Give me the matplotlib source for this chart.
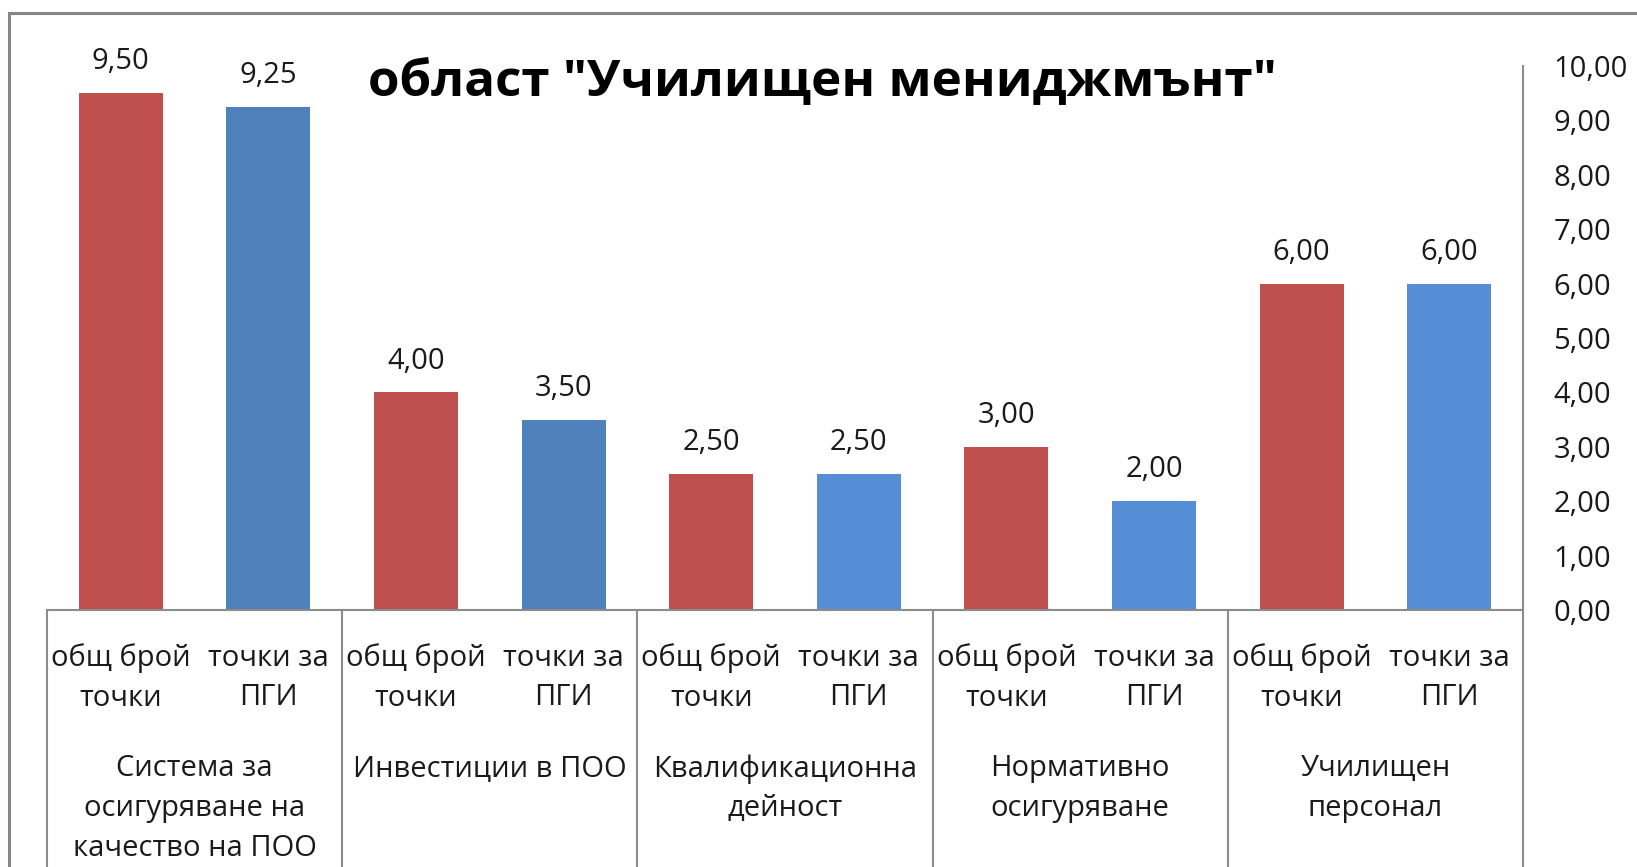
import numpy as np
import matplotlib

matplotlib.use("Agg")
import matplotlib.pyplot as plt
from matplotlib.patches import Rectangle
from matplotlib.ticker import FuncFormatter


GROUPS = [
    "Система за\nосигуряване на\nкачество на ПОО",
    "Инвестиции в ПОО",
    "Квалификационна\nдейност",
    "Нормативно\nосигуряване",
    "Училищен\nперсонал",
]
SUB_LABELS = ["общ брой\nточки", "точки за\nПГИ"]
TOTAL_POINTS = [9.50, 4.00, 2.50, 3.00, 6.00]
PGI_POINTS = [9.25, 3.50, 2.50, 2.00, 6.00]
TITLE = 'област "Училищен мениджмънт"'

RED = "#C0504D"
BLUES = ["#4F81BD", "#4F81BD", "#558ED5", "#558ED5", "#558ED5"]
GRID_GRAY = "#8C8C8C"

W, H = 1637, 867
LEFT_PX, RIGHT_PX, BASE_PX, TOP_PX = 47, 1523, 610, 66


def fmt(v: float) -> str:
    return f"{v:.2f}".replace(".", ",")


def main() -> None:
    plt.rcParams["font.family"] = ["Open Sans", "DejaVu Sans"]

    fig = plt.figure(figsize=(W / 100, H / 100), dpi=100)
    ax = fig.add_axes([
        LEFT_PX / W,
        1 - BASE_PX / H,
        (RIGHT_PX - LEFT_PX) / W,
        (BASE_PX - TOP_PX) / H,
    ])

    n = len(GROUPS)
    x_total = np.arange(n) * 2
    x_pgi = x_total + 1
    width = 0.57

    ax.bar(x_total, TOTAL_POINTS, width=width, color=RED)
    ax.bar(x_pgi, PGI_POINTS, width=width, color=BLUES)

    for xs, vals in ((x_total, TOTAL_POINTS), (x_pgi, PGI_POINTS)):
        for xi, v in zip(xs, vals):
            ax.annotate(fmt(v), (xi, v), xytext=(0, 22.5), textcoords="offset points",
                        ha="center", va="center", fontsize=21, color="#1a1a1a")

    ax.set_xlim(-0.5, 2 * n - 0.5)
    ax.set_ylim(0, 10)
    ax.set_yticks(np.arange(0, 11, 1))
    ax.yaxis.set_major_formatter(FuncFormatter(lambda v, _: fmt(v)))
    ax.yaxis.tick_right()
    ax.tick_params(axis="y", length=0, pad=22, labelsize=21, labelcolor="#1a1a1a")
    ax.set_xticks([])

    for side in ("top", "left"):
        ax.spines[side].set_visible(False)
    for side in ("right", "bottom"):
        ax.spines[side].set_color(GRID_GRAY)
        ax.spines[side].set_linewidth(1.5)

    # multi-level category axis
    tr = ax.get_xaxis_transform()
    for xb in np.arange(-0.5, 2 * n, 2):
        ax.plot([xb, xb], [0, -0.6], transform=tr, color=GRID_GRAY, lw=1.5, clip_on=False)

    px = BASE_PX - TOP_PX
    for i in range(n):
        for j, lab in enumerate(SUB_LABELS):
            ax.text(2 * i + j, (BASE_PX - 678) / px, lab, transform=tr, ha="center", va="center",
                    fontsize=21, linespacing=1.49, color="#1a1a1a")
        ax.text(2 * i + 0.5, (BASE_PX - 754) / px, GROUPS[i], transform=tr, ha="center", va="top",
                fontsize=21, linespacing=1.49, color="#1a1a1a")

    fig.text(822 / W, 1 - 83 / H, TITLE, ha="center", va="center", fontsize=36.8,
             fontweight="bold", color="black")

    fig.patches.append(Rectangle((9 / W, -0.2), 1.2, 1.2 - 13 / H, transform=fig.transFigure,
                                 fill=False, edgecolor="#868686", lw=2.2))

    fig.savefig("out.png", dpi=100)
    plt.close(fig)


if __name__ == "__main__":
    main()
